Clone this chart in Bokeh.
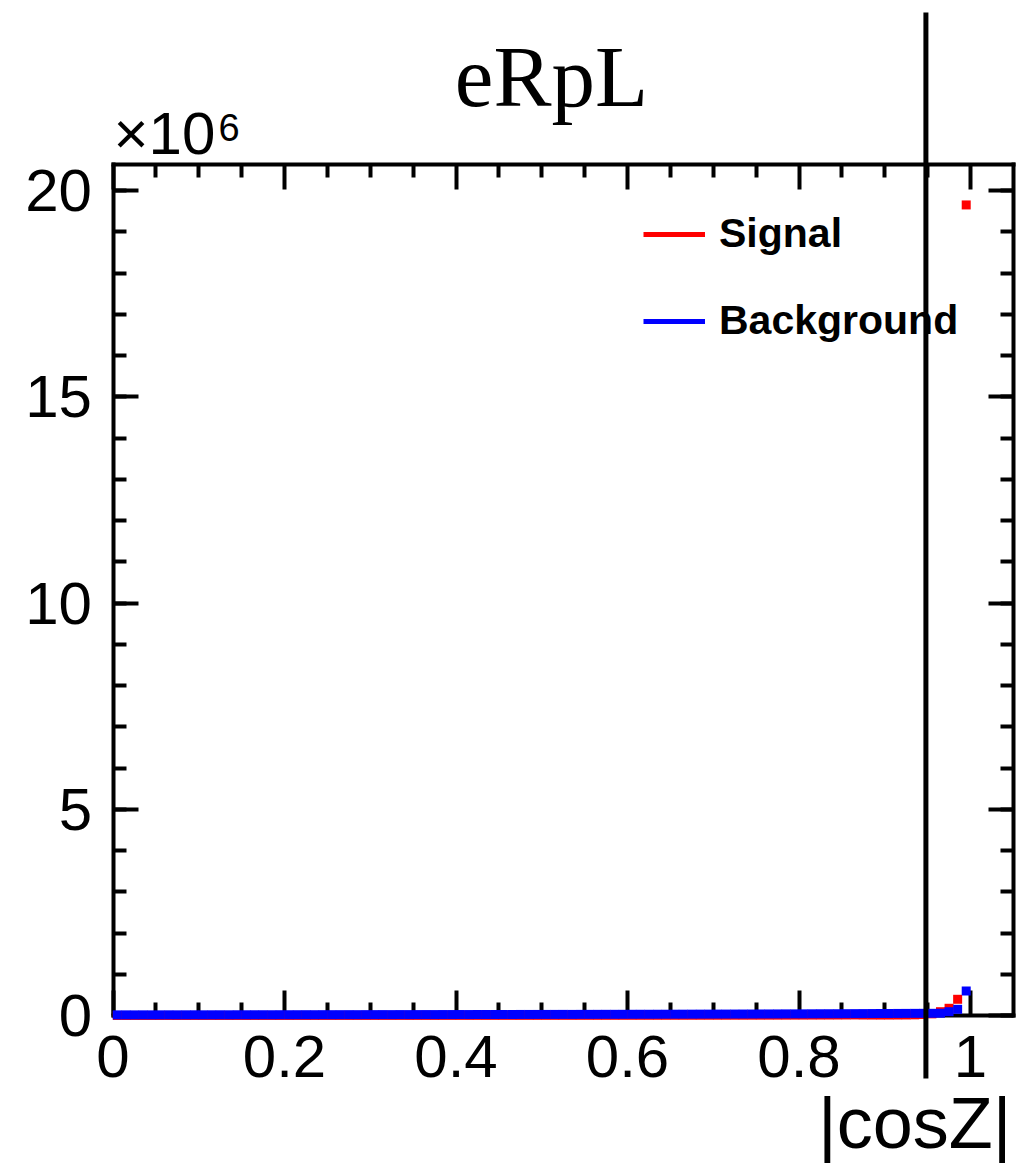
from bokeh.plotting import figure
from bokeh.models import (Range1d, LinearAxis, FixedTicker, Label,
                          Legend, LegendItem, ColumnDataSource)
from bokeh.embed import file_html
from bokeh.resources import INLINE

# ---------------- data (histogram of |cosZ|, 100 bins on [0, 1]) ----------------
n_bins = 100
bin_lo, bin_hi = 0.0, 1.0

signal = [
    1000, 800, 1200, 900, 1100, 1000, 1300, 1100, 1200, 1400,
    1300, 1500, 1200, 1400, 1600, 1500, 1700, 1500, 1800, 1600,
    1800, 2000, 1900, 2100, 2000, 2200, 2300, 2100, 2400, 2300,
    2500, 2400, 2600, 2700, 2500, 2800, 2900, 2700, 3000, 3100,
    3000, 3200, 3300, 3100, 3400, 3500, 3600, 3400, 3700, 3800,
    3900, 4000, 4100, 4000, 4300, 4400, 4500, 4600, 4800, 4900,
    5000, 5200, 5300, 5500, 5600, 5800, 6000, 6200, 6400, 6600,
    6800, 7000, 7300, 7500, 7800, 8000, 8400, 8700, 9000, 9500,
    10000, 10500, 11000, 11500, 12000, 13000, 14000, 12000, 11000, 10500,
    11000, 12000, 13000, 16000, 25000, 40000, 92000, 175000, 393000, 19650000,
]

background = [
    15000, 15500, 15000, 16000, 15500, 16000, 16500, 16000, 16500, 17000,
    16500, 17000, 17500, 17000, 18000, 17500, 18000, 18500, 18000, 19000,
    18500, 19000, 19500, 19000, 20000, 19500, 20000, 20500, 20000, 21000,
    21000, 21500, 21000, 22000, 21500, 22000, 22500, 22000, 23000, 23000,
    23500, 23000, 24000, 24000, 24500, 25000, 24500, 25500, 25500, 26000,
    26000, 26500, 27000, 26500, 27500, 27500, 28000, 28500, 28500, 29000,
    29500, 30000, 30000, 30500, 31000, 31500, 32000, 32500, 33000, 33500,
    34000, 34500, 35000, 35500, 36000, 37000, 37500, 38000, 39000, 39500,
    40000, 41000, 42000, 42500, 43000, 44000, 45000, 46000, 47000, 48000,
    49000, 50000, 51000, 52000, 53000, 53000, 55000, 92000, 150000, 594000,
]

cut_value = 0.948          # vertical cut line on |cosZ|

x_ticks = [0.0, 0.2, 0.4, 0.6, 0.8, 1.0]
x_tick_labels = ["0", "0.2", "0.4", "0.6", "0.8", "1"]
x_minor = [0.05, 0.1, 0.15, 0.25, 0.3, 0.35, 0.45, 0.5, 0.55, 0.65, 0.7, 0.75,
           0.85, 0.9, 0.95]
y_ticks = [0, 5000000, 10000000, 15000000, 20000000]
y_tick_labels = ["0", "5", "10", "15", "20"]
y_minor = [m * 1000000 for m in range(0, 21)]

title_text = "eRpL"
x_title = "|cosZ|"
legend_labels = ["Signal", "Background"]

# ---------------- layout: ROOT-like frame inside a full-canvas Bokeh frame ----------------
W, H = 1036, 1164
x_max = 1.05
y_max = 1.05 * max(signal)
fx0 = 112.5                                  # pixel column of x=0
fy0 = 1015.0                                 # pixel row of y=0
ppx = 857.5                                  # pixels per x unit
ppy = 41.25 / 1e6                            # pixels per count


def X(px):   # canvas pixel column -> data x
    return (px - fx0) / ppx


def Y(py):   # canvas pixel row -> data y
    return (fy0 - py) / ppy


width_bin = (bin_hi - bin_lo) / n_bins
centers = [bin_lo + (i + 0.5) * width_bin for i in range(n_bins)]

p = figure(frame_width=W, frame_height=H,
           x_range=Range1d(X(0), X(W)), y_range=Range1d(Y(H), Y(0)),
           x_axis_location=None, y_axis_location=None,
           output_backend="svg", toolbar_location=None,
           min_border=0, background_fill_color="white",
           border_fill_color="white")
p.outline_line_color = None
p.grid.grid_line_color = None

FONT = "Liberation Sans"


def make_axis(ticks, minor, labels, show, loc, bounds):
    ax = LinearAxis(ticker=FixedTicker(ticks=ticks, minor_ticks=minor),
                    fixed_location=loc, bounds=bounds,
                    axis_line_width=4, axis_line_color="black",
                    axis_line_cap="square",
                    major_tick_line_width=4, minor_tick_line_width=4,
                    major_tick_in=25, major_tick_out=0,
                    minor_tick_in=13, minor_tick_out=0,
                    major_label_text_font=FONT)
    if show:
        ax.major_label_overrides = {t: l for t, l in zip(ticks, labels)}
        ax.major_label_text_font_size = "60px"
        ax.major_label_text_color = "black"
    else:
        ax.major_label_text_font_size = "1px"
        ax.major_label_text_color = None
        ax.major_label_standoff = 0
    return ax


bottom = make_axis(x_ticks, x_minor, x_tick_labels, True, 0, (0, x_max))
bottom.major_label_standoff = 20
left = make_axis(y_ticks, y_minor, y_tick_labels, True, 0, (0, y_max))
left.major_label_standoff = 21
top = make_axis(x_ticks, x_minor, x_tick_labels, False, y_max, (0, x_max))
right = make_axis(y_ticks, y_minor, y_tick_labels, False, x_max, (0, y_max))
p.add_layout(bottom, "below")
p.add_layout(left, "left")
p.add_layout(top, "above")
p.add_layout(right, "right")

src = ColumnDataSource(dict(x=centers, sig=signal, bkg=background))
r_sig = p.scatter("x", "sig", source=src, marker="square", size=9,
                  fill_color="red", line_color=None, level="overlay")
r_bkg = p.scatter("x", "bkg", source=src, marker="square", size=9,
                  fill_color="blue", line_color=None, level="overlay")

# vertical cut line, extending above and below the frame
p.segment(x0=[cut_value], y0=[Y(12)], x1=[cut_value], y1=[Y(1078)],
          line_color="black", line_width=5, level="overlay")

# legend (line samples) - hidden line renderers used only for the legend glyphs
l_sig = p.line("x", "sig", source=src, line_color="red", line_width=5, visible=False)
l_bkg = p.line("x", "bkg", source=src, line_color="blue", line_width=5, visible=False)
legend = Legend(items=[LegendItem(label=legend_labels[0], renderers=[l_sig]),
                       LegendItem(label=legend_labels[1], renderers=[l_bkg])],
                location=(643, 820), glyph_width=62, glyph_height=40,
                label_height=40, label_standoff=14, spacing=40,
                padding=0, margin=0, border_line_color=None,
                background_fill_alpha=0, inactive_fill_alpha=0,
                label_text_color="black",
                label_text_font=FONT, label_text_font_style="bold",
                label_text_font_size="41px")
p.add_layout(legend)

p.add_layout(Label(x=X(551), y=Y(76), text=title_text, text_color="black",
                   text_font="Liberation Serif", text_font_size="87px",
                   text_align="center", text_baseline="alphabetic"))
p.add_layout(Label(x=X(113), y=Y(133), text="\u00d710", text_color="black",
                   text_font=FONT, text_font_size="60px",
                   text_align="left", text_baseline="alphabetic"))
p.add_layout(Label(x=X(218), y=Y(127), text="6", text_color="black",
                   text_font=FONT, text_font_size="38px",
                   text_align="left", text_baseline="alphabetic"))
p.add_layout(Label(x=X(1011), y=Y(1122), text=x_title, text_color="black",
                   text_font=FONT, text_font_size="72px",
                   text_align="right", text_baseline="alphabetic"))

open("out.html", "w").write(file_html(p, INLINE))
